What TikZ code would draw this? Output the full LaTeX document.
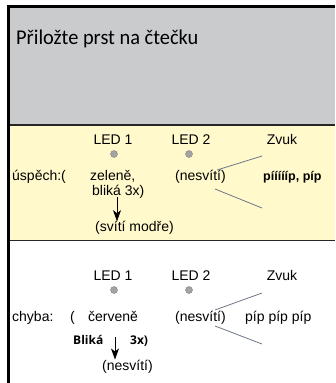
\documentclass[tikz,border=0pt]{standalone}
\usepackage{fontspec}
\setmainfont{Liberation Sans}
\newfontfamily\titlefont{Carlito}
\newfontfamily\smallfont{Open Sans}
\usetikzlibrary{arrows.meta}
\definecolor{panelgray}{HTML}{C9CBCC}
\definecolor{panelyellow}{HTML}{FFF9CC}
\definecolor{tickgray}{HTML}{6F7686}
\definecolor{dotgray}{HTML}{A4A4A4}

\begin{document}
\begin{tikzpicture}[x=1pt,y=-1pt,
    lbl/.style={inner sep=0pt,anchor=base west,font=\fontsize{14}{16}\selectfont},
    tiny/.style={inner sep=0pt,anchor=base west,font=\bfseries\fontsize{12.5}{14}\selectfont},
    tinier/.style={inner sep=0pt,anchor=base west,font=\smallfont\bfseries\fontsize{12}{14}\selectfont},
    led/.style={circle,draw=gray,fill=dotgray,minimum size=7pt,inner sep=0pt},
    tick/.style={tickgray,line width=0.8pt},
    arr/.style={-{Stealth[length=11pt,width=8pt,inset=3pt]},line width=0.8pt}]
  \useasboundingbox (0,0) rectangle (335,383);
  % panels
  \fill[panelgray] (8,7) rectangle (335,125);
  \fill[panelyellow] (8,125) rectangle (335,240);
  \draw[line width=2pt,black!85] (8,125) -- (335,125);
  \draw[line width=1pt,black!85] (8,240.5) -- (335,240.5);
  \draw[line width=3pt] (8,383) -- (8,6.5) -- (335,6.5);
  \node[inner sep=0pt,anchor=base west,font=\titlefont\fontsize{21}{22}\selectfont] (title) at (16,44.5) {\scalebox{0.97}[1]{Přiložte prst na čtečku}};
  % LED heads of both rows
  \foreach \y/\r in {144/s,280/c} {
    \node[lbl,anchor=base] (ledA\r) at (113,\y) {LED 1};
    \node[lbl,anchor=base] (ledB\r) at (191,\y) {LED 2};
    \node[lbl,anchor=base] (zvuk\r) at (282,\y) {Zvuk};
    \node[led] (dotA\r) at (114,\y+10) {};
    \node[led] (dotB\r) at (189,\y+10) {};
  }
  % success row
  \node[lbl] (uspech) at (12,180) {úspěch:(};
  \node[lbl] (zelene) at (90,180) {zeleně,};
  \node[lbl] (blika) at (92,195.7) {bliká 3x)};
  \node[lbl] (modre) at (95,231.7) {(svítí modře)};
  \node[lbl] (nesvitiS) at (175,180) {(nesvítí)};
  \node[tiny] (pipS) at (263,180) {píííííp, píp};
  \coordinate (arrS) at (117,197);
  \draw[arr] (arrS) -- (arrS |- modre.north);
  \coordinate (tAs) at (217,170);
  \coordinate (tBs) at (262,156);
  \coordinate (tCs) at (215,189);
  \coordinate (tDs) at (262,208);
  \draw[tick] (tAs) -- (tBs);
  \draw[tick] (tCs) -- (tDs);
  % error row
  \node[lbl] (chyba) at (12,321.7) {chyba:};
  \node[lbl] (paren) at (70,321.7) {(};
  \node[lbl] (cervene) at (88,321.7) {červeně};
  \node[lbl] (nesvitiC) at (175,321.7) {(nesvítí)};
  \node[lbl] (pipC) at (245,321.7) {píp píp píp};
  \node[tinier] (blikaC) at (73,344) {Bliká};
  \node[tinier] (triC) at (130,344) {3x)};
  \node[lbl] (zhasne) at (102,370) {(nesvítí)};
  \coordinate (arrC) at (115,337);
  \draw[arr] (arrC) -- (arrC |- zhasne.north);
  \coordinate (tAc) at (215,310);
  \coordinate (tBc) at (262,293);
  \coordinate (tCc) at (215,326);
  \coordinate (tDc) at (262,344);
  \draw[tick] (tAc) -- (tBc);
  \draw[tick] (tCc) -- (tDc);
\end{tikzpicture}
\end{document}
